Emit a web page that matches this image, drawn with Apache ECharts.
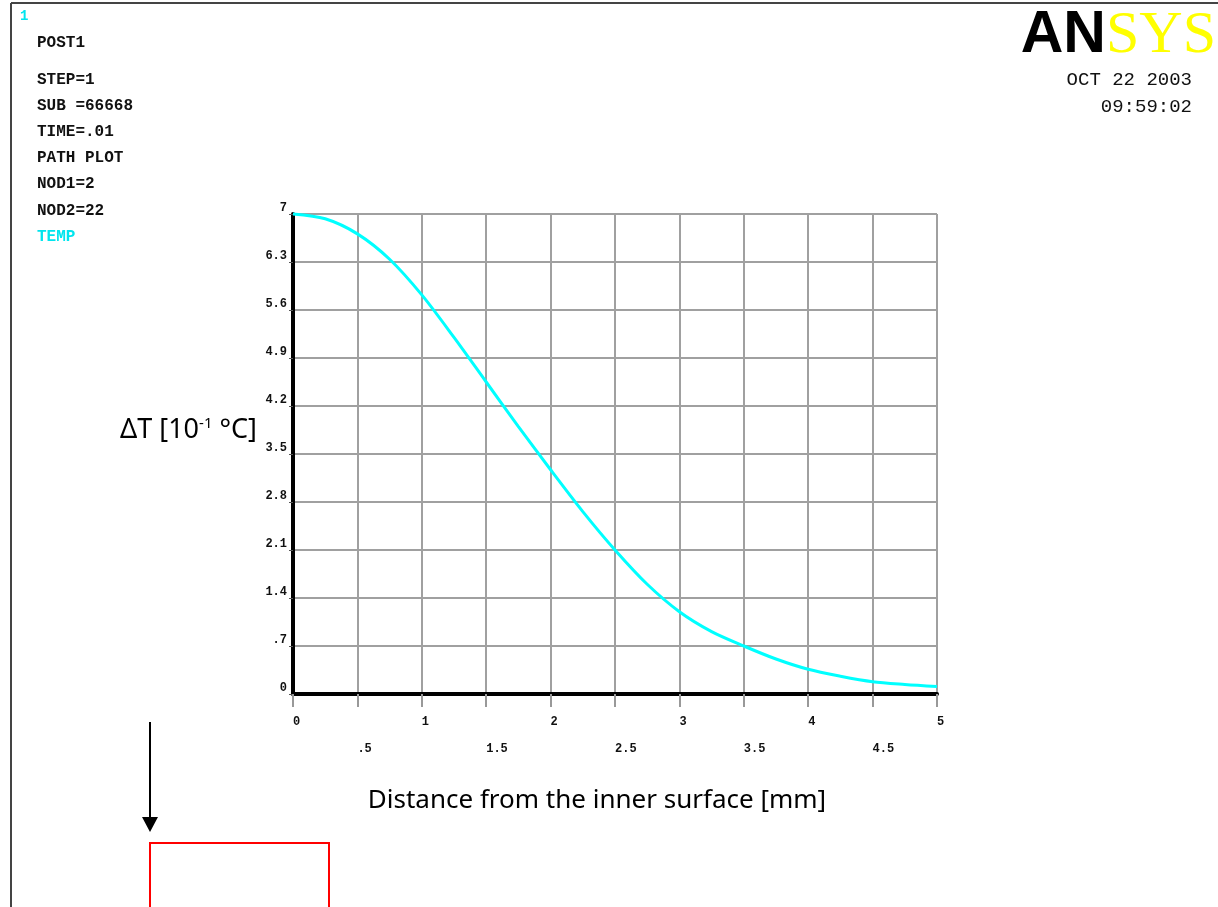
<!DOCTYPE html>
<html>
<head>
<meta charset="utf-8">
<style>
  html, body { margin: 0; padding: 0; background: #ffffff; }
  #chart { width: 1218px; height: 907px; }
</style>
<script src="https://cdn.jsdelivr.net/npm/echarts@6/dist/echarts.min.js"></script>
</head>
<body>
<div id="chart"></div>
<script>
// Path plot of temperature rise along the path NOD1 -> NOD2
const distance = [0, 0.25, 0.5, 0.75, 1.0, 1.25, 1.5, 1.75, 2.0, 2.25, 2.5,
                  2.75, 3.0, 3.25, 3.5, 3.75, 4.0, 4.25, 4.5, 4.75, 5.0];
const deltaT = [7.00, 6.93, 6.71, 6.34, 5.82, 5.20, 4.55, 3.90, 3.27, 2.66, 2.10,
                1.60, 1.20, 0.91, 0.70, 0.51, 0.36, 0.26, 0.18, 0.14, 0.11];

// Header block (ANSYS style annotation)
const headerLines = ['POST1', 'STEP=1', 'SUB =66668', 'TIME=.01', 'PATH PLOT', 'NOD1=2', 'NOD2=22'];
const headerY = [43, 80, 106, 132, 158, 184, 211];
const resultLabel = 'TEMP';
const dateLines = ['OCT 22 2003', '09:59:02'];

const xTitle = 'Distance from the inner surface [mm]';

const mono = '"Liberation Mono", "DejaVu Sans Mono", monospace';
const chart = echarts.init(document.getElementById('chart'), null, { renderer: 'canvas' });

function fmtNum(v) {
  let s = (Math.round(v * 10) / 10).toString();
  if (s.startsWith('0.')) s = s.slice(1);
  return s;
}

const graphics = [
  // outer frame (top and left edges)
  { type: 'line', shape: { x1: 11, y1: 3, x2: 1218, y2: 3 }, style: { stroke: '#444', lineWidth: 2 } },
  { type: 'line', shape: { x1: 11, y1: 3, x2: 11, y2: 907 }, style: { stroke: '#444', lineWidth: 2 } },
  // window number
  { type: 'text', left: 20, top: 9, style: { text: '1', font: 'bold 14px ' + mono, fill: '#00e5ee' } },
  // ANSYS logo
  { type: 'text', x: 1216, y: 66, style: {
      text: '{a|AN}{b|SYS}', align: 'right', verticalAlign: 'bottom',
      rich: {
        a: { font: 'bold 59px "Liberation Sans", Arial, sans-serif', fill: '#000' },
        b: { font: '60px "Liberation Serif", "Times New Roman", serif', fill: '#ffff00' }
      }
  } },
  // result label
  { type: 'text', x: 37, y: 237, style: { text: resultLabel, font: 'bold 16px ' + mono, fill: '#00e5ee', verticalAlign: 'middle' } },
  // arrow pointing down
  { type: 'line', shape: { x1: 150, y1: 722, x2: 150, y2: 820 }, style: { stroke: '#000', lineWidth: 2 } },
  { type: 'polygon', shape: { points: [[142, 817], [158, 817], [150, 832]] }, style: { fill: '#000' } },
  // red box
  { type: 'rect', shape: { x: 150, y: 843, width: 179, height: 80 }, style: { fill: 'none', stroke: '#ff0000', lineWidth: 2 } }
];
headerLines.forEach((t, i) => {
  graphics.push({ type: 'text', x: 37, y: headerY[i], style: { text: t, font: 'bold 16px ' + mono, fill: '#111', verticalAlign: 'middle' } });
});
dateLines.forEach((t, i) => {
  graphics.push({ type: 'text', x: 1192, y: 80 + i * 27, style: { text: t, font: '19px ' + mono, fill: '#111', align: 'right', verticalAlign: 'middle' } });
});

const option = {
  backgroundColor: '#ffffff',
  animation: false,
  grid: { left: 293, right: 281, top: 214, bottom: 213, containLabel: false },
  xAxis: {
    type: 'value', min: 0, max: 5, interval: 0.5,
    name: xTitle, nameLocation: 'middle', nameGap: 94,
    nameTextStyle: { fontFamily: '"Noto Sans", sans-serif', fontSize: 26, color: '#000', padding: [0, 36, 0, 0] },
    axisLine: { show: true, onZero: false, lineStyle: { color: '#000', width: 4 } },
    axisTick: { show: true, length: 13, lineStyle: { color: '#999', width: 2 } },
    axisLabel: {
      margin: 14, align: 'left', lineHeight: 27,
      fontFamily: mono, fontWeight: 'bold', fontSize: 12, color: '#111',
      formatter: v => (Math.abs(v - Math.round(v)) < 1e-6 ? String(Math.round(v)) : '\n' + fmtNum(v))
    },
    splitLine: { show: true, lineStyle: { color: '#a0a0a0', width: 2 } }
  },
  yAxis: {
    type: 'value', min: 0, max: 7, interval: 0.7,
    name: '{a|ΔT [10}{s|-1}{a| °C]}', nameLocation: 'middle', nameRotate: 0, nameGap: 36,
    nameTextStyle: {
      padding: [0, 0, 48, 0],
      rich: {
        a: { fontFamily: '"Noto Sans", sans-serif', fontSize: 27, color: '#000' },
        s: { fontFamily: '"Noto Sans", sans-serif', fontSize: 15, color: '#000', verticalAlign: 'top', padding: [0, 0, 12, 0] }
      }
    },
    axisLine: { show: true, onZero: false, lineStyle: { color: '#000', width: 4 } },
    axisTick: { show: true, length: 4, lineStyle: { color: '#555', width: 1 } },
    axisLabel: {
      margin: 6, verticalAlign: 'bottom',
      fontFamily: mono, fontWeight: 'bold', fontSize: 12, color: '#111',
      formatter: v => fmtNum(v)
    },
    splitLine: { show: true, lineStyle: { color: '#a0a0a0', width: 2 } }
  },
  series: [{
    type: 'line',
    data: distance.map((d, i) => [d, deltaT[i]]),
    smooth: 0.3,
    showSymbol: false,
    clip: false,
    z: 5,
    lineStyle: { color: '#00ffff', width: 3 }
  }],
  graphic: graphics
};
chart.setOption(option);
</script>
</body>
</html>
